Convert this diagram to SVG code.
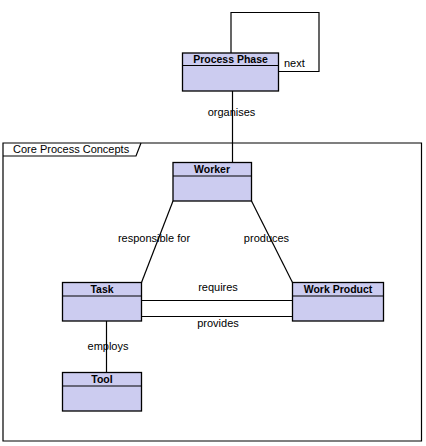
<svg xmlns="http://www.w3.org/2000/svg" width="426" height="446" viewBox="0 0 426 446">
<style>
.box{fill:#ccccf0;stroke:#000;stroke-width:1.3}
.ln{fill:none;stroke:#000;stroke-width:1.2}
.t{font-family:"Liberation Sans",Arial,sans-serif;font-size:11px;fill:#000}
.b{font-family:"Liberation Sans",Arial,sans-serif;font-size:10.5px;font-weight:bold;fill:#000;text-anchor:middle}
.c{text-anchor:middle}
</style>
<rect width="426" height="446" fill="#fff"/>
<g id="package">
<path class="ln" d="M3,143 H421.5 V441 H3 Z"/>
<path class="ln" d="M3,156 H136 L141,143"/>
<text class="t" x="13" y="153">Core Process Concepts</text>
</g>
<g id="connectors">
<path class="ln" d="M231,53 V12.5 H319 V71.5 H278.5"/>
<text class="t" x="284" y="66.5">next</text>
<path class="ln" d="M232.5,91 V162.5"/>
<text class="t c" x="231.5" y="115.5">organises</text>
<path class="ln" d="M173,201 L141.5,282.5"/>
<text class="t c" x="154" y="242">responsible for</text>
<path class="ln" d="M251.5,201 L292.5,282.5"/>
<text class="t c" x="266.5" y="242">produces</text>
<path class="ln" d="M141.5,300.5 H292.5"/>
<text class="t c" x="218" y="290.5">requires</text>
<path class="ln" d="M141.5,316.5 H292.5"/>
<text class="t c" x="218" y="327">provides</text>
<path class="ln" d="M106.5,321 V372.5"/>
<text class="t c" x="108" y="349.5">employs</text>
</g>
<g id="process-phase">
<rect class="box" x="182.5" y="53" width="96" height="38"/>
<line class="ln" x1="182.5" y1="65.5" x2="278.5" y2="65.5"/>
<text class="b" x="230.5" y="63">Process Phase</text>
</g>
<g id="worker">
<rect class="box" x="173" y="162.5" width="78.5" height="38.5"/>
<line class="ln" x1="173" y1="176" x2="251.5" y2="176"/>
<text class="b" x="212" y="173">Worker</text>
</g>
<g id="task">
<rect class="box" x="62.5" y="282.5" width="79" height="38.5"/>
<line class="ln" x1="62.5" y1="296" x2="141.5" y2="296"/>
<text class="b" x="102" y="293">Task</text>
</g>
<g id="work-product">
<rect class="box" x="292.5" y="282.5" width="91" height="38.5"/>
<line class="ln" x1="292.5" y1="296" x2="383.5" y2="296"/>
<text class="b" x="338" y="293">Work Product</text>
</g>
<g id="tool">
<rect class="box" x="62.5" y="372.5" width="79" height="38.5"/>
<line class="ln" x1="62.5" y1="386" x2="141.5" y2="386"/>
<text class="b" x="102" y="383">Tool</text>
</g>
</svg>
